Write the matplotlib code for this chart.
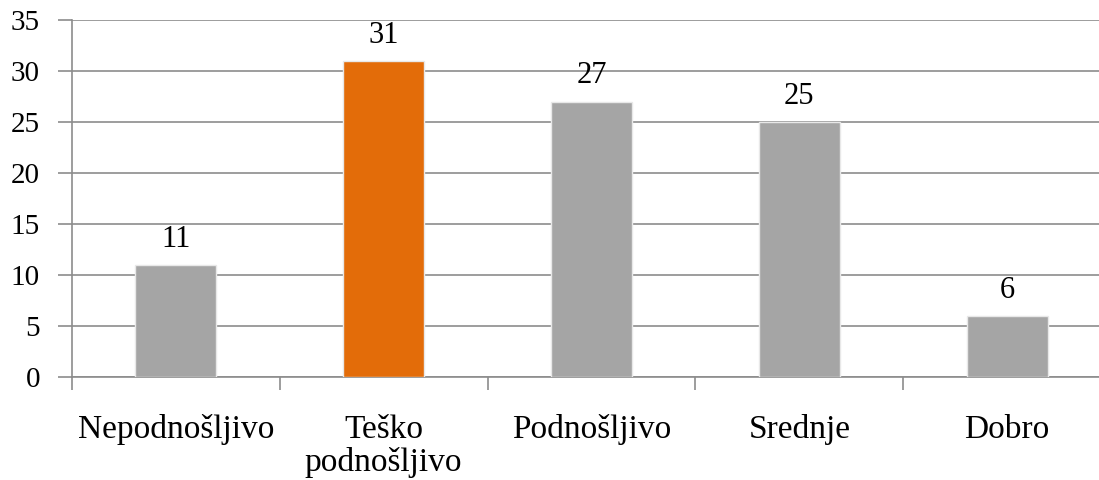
import numpy as np
import matplotlib.pyplot as plt

categories = ['Nepodnošljivo', 'Teško\npodnošljivo', 'Podnošljivo', 'Srednje', 'Dobro']
values = [11, 31, 27, 25, 6]
colors = ['#A5A5A5', '#E36C09', '#A5A5A5', '#A5A5A5', '#A5A5A5']

plt.rcParams['font.family'] = ['Liberation Serif', 'DejaVu Serif']

fig = plt.figure(figsize=(10.99, 4.8), dpi=100)
ax = fig.add_axes([0.0655, 0.2146, 0.9454, 0.7437])

x = np.arange(len(categories))
bars = ax.bar(x, values, width=0.39, color=colors, edgecolor='#e8e8e8', linewidth=1, zorder=3)

for xi, v in zip(x, values):
    ax.annotate(str(v), (xi, v), xytext=(0, 8), textcoords='offset points',
                ha='center', va='bottom', fontsize=22)

ax.set_xlim(-0.5, len(categories) - 0.5)
ax.set_ylim(0, 35)
ax.set_yticks(np.arange(0, 36, 5))
ax.yaxis.grid(True, color='#8c8c8c', linewidth=1.2, zorder=0)
ax.set_axisbelow(True)

ax.set_xticks(x)
ax.set_xticklabels(categories, fontsize=24, linespacing=1.1)
ax.tick_params(axis='x', length=0, pad=27)
ax.set_xticks(np.arange(-0.5, len(categories)), minor=True)
ax.tick_params(axis='x', which='minor', length=9, width=1.2, color='#8c8c8c')
ax.tick_params(axis='y', length=10, width=1.2, color='#8c8c8c', labelsize=21, pad=13)

for s in ['top', 'right']:
    ax.spines[s].set_visible(False)
for s in ['left', 'bottom']:
    ax.spines[s].set_color('#8c8c8c')
    ax.spines[s].set_linewidth(1.2)

fig.savefig('out.png', dpi=100)
